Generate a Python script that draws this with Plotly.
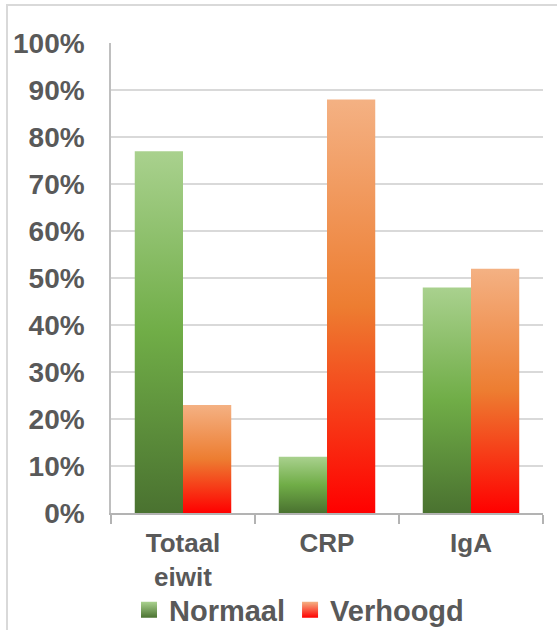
import plotly.graph_objects as go

# ---- data ----
categories = ["Totaal<br>eiwit", "CRP", "IgA"]
series_names = ["Normaal", "Verhoogd"]
normaal = [0.77, 0.12, 0.48]
verhoogd = [0.23, 0.88, 0.52]
y_ticks = [0.0, 0.1, 0.2, 0.3, 0.4, 0.5, 0.6, 0.7, 0.8, 0.9, 1.0]

# ---- style ----
FONT = "Liberation Sans, Arial, sans-serif"
TEXT = "#595959"
GREEN_SCALE = [[0.0, "#4a7230"], [0.5, "#70ad47"], [1.0, "#a9d18e"]]
ORANGE_SCALE = [[0.0, "#ff0000"], [0.5, "#ed7d31"], [1.0, "#f4b183"]]
BAR_W = 0.335
W, H = 557, 630
L, R, T, B = 111, 14, 43, 117
PW, PH = W - L - R, H - T - B

fig = go.Figure()

series = [
    (series_names[0], normaal, GREEN_SCALE, "#a9d18e", "#4a7230"),
    (series_names[1], verhoogd, ORANGE_SCALE, "#f4b183", "#ff0000"),
]
n_series = len(series)
for s_idx, (name, vals, scale, top_col, bot_col) in enumerate(series):
    offset = (s_idx - (n_series - 1) / 2) * BAR_W
    for i, v in enumerate(vals):
        xc = i + offset
        x0, x1 = xc - BAR_W / 2, xc + BAR_W / 2
        fig.add_trace(go.Scatter(
            x=[x0, x1, x1, x0, x0], y=[0, 0, v, v, 0],
            fill="toself", mode="none",
            fillgradient=dict(type="vertical", colorscale=scale, start=0, stop=v),
            name=name, legendgroup=name, showlegend=False,
            hoverinfo="text", text=f"{name}: {v:.0%}",
        ))
    # legend entry
    fig.add_trace(go.Scatter(
        x=[None], y=[None], mode="markers", name=name, legendgroup=name,
        marker=dict(symbol="square", size=16, color=top_col,
                    gradient=dict(type="vertical", color=bot_col)),
    ))

boundaries = [i - 0.5 for i in range(len(categories) + 1)]

fig.update_layout(
    width=W, height=H,
    margin=dict(l=L, r=R, t=T, b=B, pad=0, autoexpand=False),
    paper_bgcolor="white", plot_bgcolor="white",
    font=dict(family=FONT, color=TEXT),
    xaxis=dict(
        range=[boundaries[0], boundaries[-1]], automargin=False,
        tickmode="array", tickvals=list(range(len(categories))), ticktext=categories,
        ticks="outside", ticklen=6, tickcolor="rgba(0,0,0,0)",
        tickfont=dict(family=FONT, size=26, color=TEXT, weight="bold"),
        showline=True, linecolor="#b3b3b3", linewidth=2,
        showgrid=False, zeroline=False, fixedrange=True,
        minor=dict(tickmode="array", tickvals=boundaries, ticks="outside",
                   ticklen=9, tickwidth=2, tickcolor="#b3b3b3", showgrid=False),
    ),
    xaxis2=dict(
        overlaying="x", matches="x", anchor="y", side="bottom", automargin=False,
        range=[boundaries[0], boundaries[-1]],
        tickmode="array", tickvals=boundaries, ticks="inside", ticklen=7,
        tickwidth=2, tickcolor="#b3b3b3", showticklabels=False,
        showline=False, showgrid=False, zeroline=False,
    ),
    yaxis=dict(
        range=[0, 1.0005], tickmode="array", tickvals=y_ticks, tickformat=".0%",
        automargin=False,
        ticks="outside", ticklen=19, tickcolor="rgba(0,0,0,0)",
        tickfont=dict(family=FONT, size=28, color=TEXT, weight="bold"),
        showline=True, linecolor="#bfbfbf", linewidth=1.5,
        showgrid=True, gridcolor="#d9d9d9", gridwidth=2,
        zeroline=False, fixedrange=True,
    ),
    legend=dict(
        orientation="h", x=(129 - L) / PW, xanchor="left",
        y=(T + PH - 610) / PH, yanchor="middle",
        font=dict(family=FONT, size=29, color=TEXT, weight="bold"),
        bgcolor="rgba(0,0,0,0)", itemclick=False, itemdoubleclick=False,
    ),
    showlegend=True,
    shapes=[dict(
        type="rect", xref="paper", yref="paper", layer="below",
        x0=(7 - L) / PW, x1=(W + 20 - L) / PW,
        y0=(T + PH - (H + 20)) / PH, y1=(T + PH - 5) / PH,
        line=dict(color="#d9d9d9", width=2), fillcolor="rgba(0,0,0,0)",
    )],
)

fig.write_html("out.html", config={"displayModeBar": False},
               post_script="document.body.style.margin='0px';")
